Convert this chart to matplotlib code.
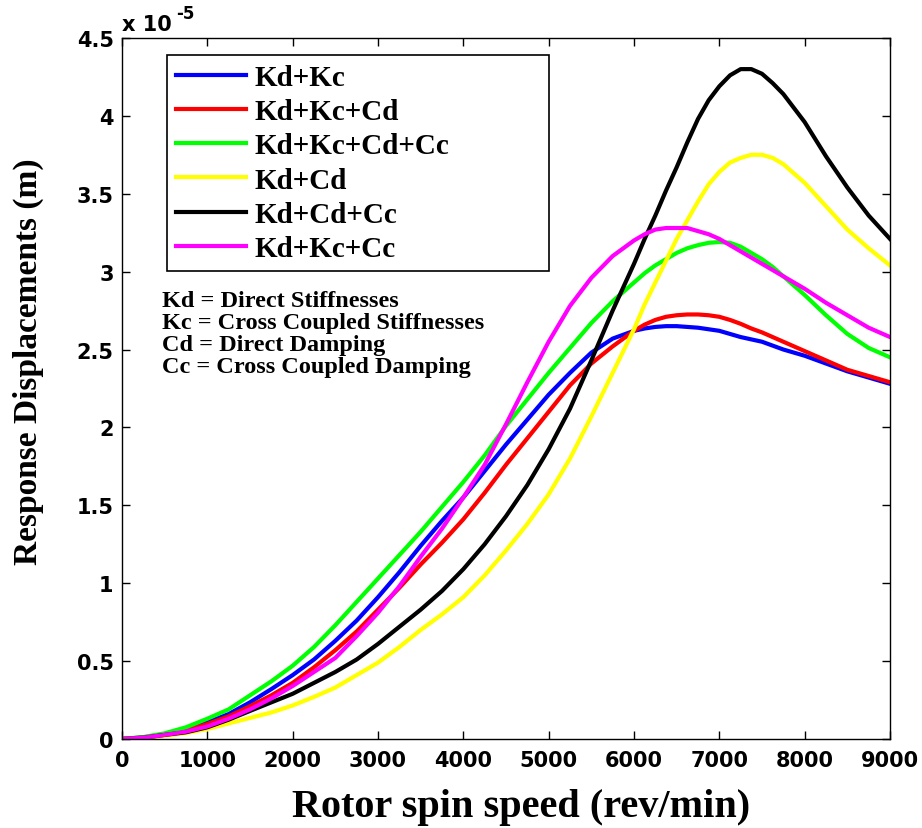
import matplotlib
matplotlib.use("Agg")
import matplotlib.pyplot as plt
from matplotlib.ticker import FuncFormatter

# rotor speed (rev/min) and response amplitudes (x 1e-5 m)
speed = (list(range(0, 6000, 250)) + list(range(6000, 8000, 125))
         + list(range(8000, 9001, 250)))

kd_kc = [0, 0.01, 0.03, 0.06, 0.107, 0.16, 0.235, 0.32, 0.41, 0.51, 0.63, 0.76,
         0.91, 1.07, 1.24, 1.40, 1.55, 1.72, 1.89, 2.05, 2.21, 2.35, 2.48, 2.57,
         2.62, 2.635, 2.645, 2.65, 2.65, 2.645, 2.64, 2.63, 2.62, 2.60, 2.58, 2.565,
         2.55, 2.525, 2.50, 2.48,
         2.46, 2.41, 2.36, 2.32, 2.28]
kd_kc_cd = [0, 0.01, 0.026, 0.053, 0.096, 0.145, 0.21, 0.28, 0.36, 0.46, 0.57, 0.69,
            0.83, 0.97, 1.12, 1.26, 1.41, 1.58, 1.76, 1.93, 2.10, 2.27, 2.41, 2.52,
            2.62, 2.66, 2.69, 2.71, 2.72, 2.725, 2.725, 2.72, 2.71, 2.69, 2.665, 2.635,
            2.61, 2.58, 2.55, 2.52,
            2.49, 2.43, 2.37, 2.33, 2.29]
kd_kc_cd_cc = [0, 0.012, 0.036, 0.075, 0.13, 0.19, 0.28, 0.37, 0.47, 0.59, 0.73, 0.88,
               1.03, 1.18, 1.33, 1.49, 1.65, 1.82, 2.01, 2.18, 2.35, 2.51, 2.67, 2.81,
               2.93, 2.99, 3.04, 3.08, 3.12, 3.15, 3.17, 3.185, 3.19, 3.185, 3.16, 3.12,
               3.08, 3.03, 2.97, 2.91,
               2.85, 2.72, 2.60, 2.51, 2.45]
kd_cd = [0, 0.006, 0.02, 0.038, 0.064, 0.10, 0.135, 0.17, 0.215, 0.27, 0.33, 0.41,
         0.49, 0.59, 0.70, 0.80, 0.91, 1.05, 1.21, 1.38, 1.57, 1.80, 2.07, 2.35,
         2.63, 2.79, 2.93, 3.07, 3.21, 3.33, 3.45, 3.56, 3.64, 3.70, 3.73, 3.75,
         3.75, 3.73, 3.69, 3.63,
         3.57, 3.42, 3.27, 3.15, 3.04]
kd_cd_cc = [0, 0.008, 0.026, 0.043, 0.075, 0.124, 0.18, 0.235, 0.29, 0.36, 0.43, 0.51,
            0.61, 0.72, 0.83, 0.95, 1.09, 1.25, 1.43, 1.63, 1.86, 2.12, 2.43, 2.75,
            3.05, 3.21, 3.36, 3.52, 3.67, 3.83, 3.98, 4.10, 4.19, 4.26, 4.30, 4.30,
            4.27, 4.21, 4.14, 4.05,
            3.96, 3.74, 3.54, 3.36, 3.21]
kd_kc_cc = [0, 0.008, 0.026, 0.047, 0.08, 0.13, 0.19, 0.26, 0.34, 0.43, 0.52, 0.66,
            0.81, 0.98, 1.17, 1.35, 1.55, 1.76, 2.02, 2.29, 2.55, 2.78, 2.96, 3.10,
            3.20, 3.24, 3.27, 3.28, 3.28, 3.28, 3.26, 3.24, 3.21, 3.17, 3.13, 3.09,
            3.05, 3.01, 2.97, 2.93,
            2.89, 2.80, 2.72, 2.64, 2.58]

series = [
    ("Kd+Kc", kd_kc, "#0000ff"),
    ("Kd+Kc+Cd", kd_kc_cd, "#ff0000"),
    ("Kd+Kc+Cd+Cc", kd_kc_cd_cc, "#00ff00"),
    ("Kd+Cd", kd_cd, "#ffff00"),
    ("Kd+Cd+Cc", kd_cd_cc, "#000000"),
    ("Kd+Kc+Cc", kd_kc_cc, "#ff00ff"),
]

notes = ["Kd = Direct Stiffnesses",
         "Kc = Cross Coupled Stiffnesses",
         "Cd = Direct Damping",
         "Cc = Cross Coupled Damping"]

scale = 1e-5
xticks = list(range(0, 9001, 1000))
yticks = [v * 0.5 for v in range(10)]

serif = "Liberation Serif"
sans = "DejaVu Sans"

fig = plt.figure(figsize=(9.22, 8.29), dpi=100)
ax = fig.add_axes([0.1323, 0.1074, 0.833, 0.8456])

for name, vals, col in series:
    ax.plot(speed, [v * scale for v in vals], color=col, lw=3, label=name,
            solid_joinstyle="round")

ax.set_xlim(0, 9000)
ax.set_ylim(0, 4.5 * scale)
ax.set_xticks(xticks)
ax.set_yticks([v * scale for v in yticks])
ax.yaxis.set_major_formatter(FuncFormatter(lambda v, p: f"{v / scale:g}"))
ax.tick_params(direction="in", length=6, width=1, top=True, right=True,
               labelsize=15)
ax.tick_params(axis="y", pad=6)
ax.tick_params(axis="x", pad=8)
for lab in ax.get_xticklabels() + ax.get_yticklabels():
    lab.set_fontfamily(sans)
    lab.set_fontweight("bold")
for sp in ax.spines.values():
    sp.set_linewidth(1.0)

# exponent label at top-left, MATLAB style
ax.text(0.0, 1.011, "x 10", transform=ax.transAxes, fontsize=15,
        fontweight="bold", family=sans, ha="left", va="baseline")
ax.text(0.071, 1.028, "-5", transform=ax.transAxes, fontsize=12,
        fontweight="bold", family=sans, ha="left", va="baseline")

ax.set_xlabel("Rotor spin speed (rev/min)", fontsize=29, fontweight="bold",
              family=serif)
ax.xaxis.set_label_coords(0.52, -0.097)
ax.xaxis.label.set_va("center")
ax.set_ylabel("Response Displacements (m)", fontsize=24, fontweight="bold",
              family=serif)
ax.yaxis.set_label_coords(-0.122, 0.54)
ax.yaxis.label.set_va("center")

leg = ax.legend(loc="upper left", bbox_to_anchor=(0.0586, 0.0, 0.497, 0.9757),
                mode="expand", borderaxespad=0, fancybox=False, framealpha=1,
                edgecolor="black", handlelength=2.4, handletextpad=0.3,
                labelspacing=0.25, borderpad=0.3,
                prop={"family": serif, "weight": "bold", "size": 21})
leg.get_frame().set_linewidth(1.2)

for i, t in enumerate(notes):
    ax.text(0.052, 0.625 - i * 0.0314, t, transform=ax.transAxes, fontsize=17.5,
            fontweight="bold", family=serif, ha="left", va="center")

fig.savefig("out.png", dpi=100)
